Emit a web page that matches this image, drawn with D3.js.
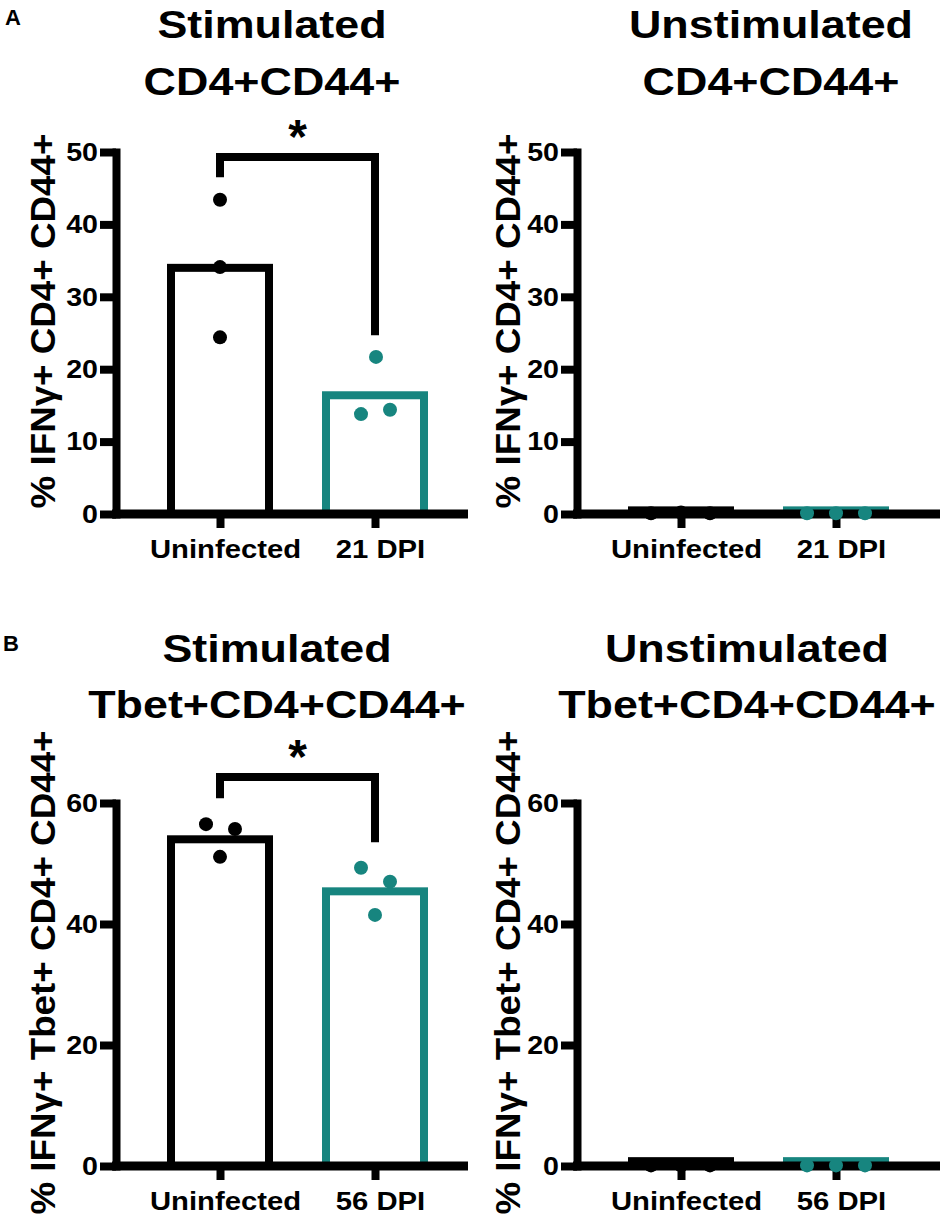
<!DOCTYPE html>
<html>
<head>
<meta charset="utf-8">
<title>IFNg CD4 panels</title>
<script src="https://cdn.jsdelivr.net/npm/d3@7"></script>
<style>
    body { margin: 0; background: #fff; }
    svg text { font-family: "Liberation Sans", Arial, sans-serif; font-weight: bold; fill: #000; }
</style>
</head>
<body>
<svg id="fig" width="945" height="1217"></svg>
<script>
// ---- data ----
var groupsA = ["Uninfected", "21 DPI"];
var groupsB = ["Uninfected", "56 DPI"];

var stimA_bars = [34.0, 16.4];
var stimA_pts = [[43.4, 34.1, 24.4], [21.7, 13.8, 14.4]];
var unstimA_bars = [0.5, 0.5];
var unstimA_pts = [[0.1, 0.2, 0.1], [0.1, 0.1, 0.1]];

var stimB_bars = [54.0, 45.4];
var stimB_pts = [[56.5, 55.7, 51.1], [49.3, 47.0, 41.5]];
var unstimB_bars = [0.8, 0.8];
var unstimB_pts = [[0.1, 0.1, 0.1], [0.1, 0.1, 0.1]];

var ticksA = [0, 10, 20, 30, 40, 50];
var ticksB = [0, 20, 40, 60];

// significance brackets: [left leg end, bracket top, right leg end]
var sigA = [46.5, 49.3, 24.7];
var sigB = [60.8, 64.3, 53.5];

var teal = "#17857f";
var colors = ["#000", teal];

// horizontal jitter of the dots (px)
var jitterStim = [[0, 0, 0], [1, -14, 15]];
var jitterStimB = [[-14, 15, 0], [-14, 15, 0]];
var jitterUn = [[-30, 0, 29], [-29, 0, 29]];

var svg = d3.select("#fig");

// stretch text sideways like the original artwork
function stretch(sel, k) {
    sel.each(function() {
        var len = this.getComputedTextLength();
        d3.select(this).attr("textLength", len * k).attr("lengthAdjust", "spacingAndGlyphs");
    });
}

var panels = [
    {ax: 116, xEnd: 468, y0: 514, y1: 152, max: 50, ticks: ticksA, groups: groupsA,
     bars: stimA_bars, pts: stimA_pts, jit: jitterStim, sig: sigA,
     title: ["Stimulated", "CD4+CD44+"], tx: 272, ty: [38, 95],
     ylab: "% IFNγ+ CD4+ CD44+", lx: 55},
    {ax: 577, xEnd: 940, y0: 514, y1: 152, max: 50, ticks: ticksA, groups: groupsA,
     bars: unstimA_bars, pts: unstimA_pts, jit: jitterUn, sig: null,
     title: ["Unstimulated", "CD4+CD44+"], tx: 771, ty: [38, 95],
     ylab: "% IFNγ+ CD4+ CD44+", lx: 520},
    {ax: 116, xEnd: 468, y0: 1166, y1: 803, max: 60, ticks: ticksB, groups: groupsB,
     bars: stimB_bars, pts: stimB_pts, jit: jitterStimB, sig: sigB,
     title: ["Stimulated", "Tbet+CD4+CD44+"], tx: 277, ty: [662, 718],
     ylab: "% IFNγ+ Tbet+ CD4+ CD44+", lx: 55},
    {ax: 577, xEnd: 940, y0: 1166, y1: 803, max: 60, ticks: ticksB, groups: groupsB,
     bars: unstimB_bars, pts: unstimB_pts, jit: jitterUn, sig: null,
     title: ["Unstimulated", "Tbet+CD4+CD44+"], tx: 747, ty: [662, 718],
     ylab: "% IFNγ+ Tbet+ CD4+ CD44+", lx: 520}
];

panels.forEach(function(p) {
    var g = svg.append("g");

    var y = d3.scaleLinear().domain([0, p.max]).range([p.y0, p.y1]);
    var x = d3.scalePoint().domain(p.groups).range([p.ax + 104, p.ax + 259]);
    var bw = 98;

    // titles
    p.title.forEach(function(t, i) {
        g.append("text")
            .attr("x", p.tx).attr("y", p.ty[i])
            .attr("text-anchor", "middle")
            .attr("font-size", 38)
            .text(t)
            .call(stretch, 1.18);
    });

    // y label
    g.append("text")
        .attr("transform", "translate(" + p.lx + "," + ((p.y0 + p.y1) / 2 - 12) + ") rotate(-90)")
        .attr("text-anchor", "middle")
        .attr("font-size", 35)
        .text(p.ylab)
        .call(stretch, 1.05);

    // bars
    g.selectAll("rect.bar")
        .data(p.bars)
        .enter()
        .append("rect")
        .attr("class", "bar")
        .attr("x", function(d, i) { return x(p.groups[i]) - bw / 2; })
        .attr("y", function(d) { return y(d); })
        .attr("width", bw)
        .attr("height", function(d) { return y(0) - y(d); })
        .attr("fill", "#fff")
        .attr("stroke", function(d, i) { return colors[i]; })
        .attr("stroke-width", 8);

    // y axis
    var yAxis = g.append("g")
        .attr("transform", "translate(" + p.ax + ",0)")
        .call(d3.axisLeft(y).tickValues(p.ticks).tickSize(16).tickSizeOuter(0).tickPadding(2));
    yAxis.select(".domain").attr("stroke-width", 8).attr("stroke-linecap", "square");
    yAxis.selectAll(".tick line").attr("stroke-width", 8);
    yAxis.selectAll(".tick text")
        .attr("font-size", 26)
        .attr("font-family", null)
        .attr("fill", "#000")
        .call(stretch, 1.1);

    // x axis
    var xAxis = g.append("g")
        .attr("transform", "translate(0," + p.y0 + ")")
        .call(d3.axisBottom(x).tickSize(14).tickSizeOuter(0).tickPadding(12));
    xAxis.select(".domain")
        .attr("d", "M" + (p.ax - 4) + ",0H" + p.xEnd)
        .attr("stroke-width", 9);
    xAxis.selectAll(".tick line").attr("stroke-width", 8);
    xAxis.selectAll(".tick text")
        .attr("font-size", 25)
        .attr("font-family", null)
        .attr("fill", "#000")
        .attr("dx", 5)
        .call(stretch, 1.17);

    // dots
    p.pts.forEach(function(vals, gi) {
        g.selectAll("circle.g" + gi)
            .data(vals)
            .enter()
            .append("circle")
            .attr("class", "g" + gi)
            .attr("cx", function(d, i) { return x(p.groups[gi]) + p.jit[gi][i]; })
            .attr("cy", function(d) { return y(d); })
            .attr("r", 7)
            .attr("fill", colors[gi]);
    });

    // significance bracket
    if (p.sig) {
        var xa = x(p.groups[0]), xb = x(p.groups[1]);
        var top = y(p.sig[1]);
        g.append("path")
            .attr("d", "M" + xa + "," + y(p.sig[0]) + "V" + top + "H" + xb + "V" + y(p.sig[2]))
            .attr("fill", "none")
            .attr("stroke", "#000")
            .attr("stroke-width", 8);
        g.append("text")
            .attr("x", (xa + xb) / 2)
            .attr("y", top - 4)
            .attr("text-anchor", "middle")
            .attr("font-size", 48)
            .text("*");
    }
});

// panel letters
svg.append("text").attr("x", 5).attr("y", 25).attr("font-size", 22).text("A");
svg.append("text").attr("x", 3).attr("y", 651).attr("font-size", 22).text("B");
</script>
</body>
</html>
